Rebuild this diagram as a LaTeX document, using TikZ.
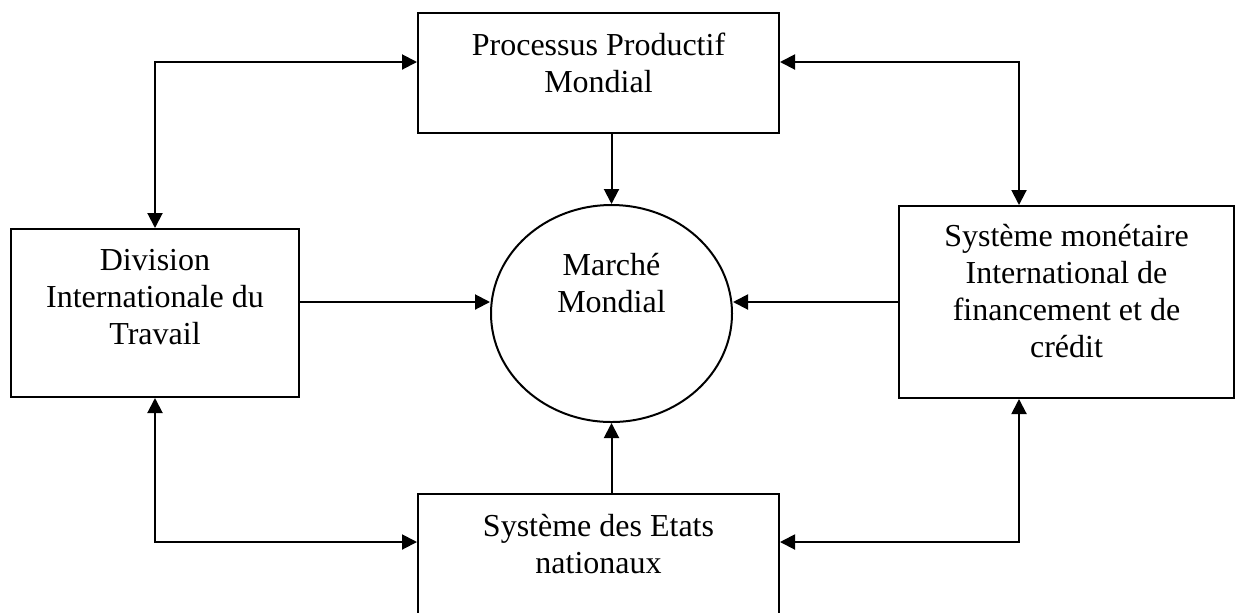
\documentclass[tikz,border=0pt]{standalone}
\usepackage{fontspec}
\setmainfont{Liberation Serif}
\usepackage{tikz}
\usetikzlibrary{calc, arrows.meta, positioning, shapes.geometric}

\begin{document}
\begin{tikzpicture}[x=0.5pt, y=-0.5pt]
	\tikzset{
		box/.style = {draw, line width=1pt, rectangle, inner sep=0pt},
		rond/.style = {draw, line width=1pt, ellipse, inner sep=0pt, minimum width=120.5pt, minimum height=108.5pt},
		txt/.style = {align=center, inner sep=0pt, font={\fontsize{16}{18.5}\selectfont}},
		arrow/.style = {-{Triangle[length=7.5pt, width=7.5pt]}, line width=1pt},
		dblarrow/.style = {{Triangle[length=7.5pt, width=7.5pt]}-{Triangle[length=7.5pt, width=7.5pt]}, line width=1pt},
	}
	\useasboundingbox (0,0) rectangle (1235,612);

	% formes
	\node[box, minimum width=180.5pt, minimum height=60pt] (prod) at (598.5,73) {};
	\node[box, minimum width=144pt, minimum height=84pt] (div) at (155,313) {};
	\node[rond] (marche) at (611.5,313.5) {};
	\node[box, minimum width=167.5pt, minimum height=96pt] (smi) at (1066.5,302) {};
	\node[box, minimum width=180.5pt, minimum height=60pt] (etats) at (598.5,554) {};

	% textes
	\node[txt] (prodtxt) at ([yshift=5.25pt]prod.center) {Processus Productif\\Mondial};
	\node[txt] (divtxt) at ([yshift=7.75pt]div.center) {Division\\Internationale du\\Travail};
	\node[txt] (marchetxt) at ([yshift=15pt]marche.center) {Marché\\Mondial};
	\node[txt] (smitxt) at ([yshift=5.25pt]smi.center) {Système monétaire\\International de\\financement et de\\crédit};
	\node[txt] (etatstxt) at ([yshift=5pt]etats.center) {Système des Etats\\nationaux};

	% vers le marche
	\draw[arrow] (marche.north |- prod.south) -- (marche.north);
	\draw[arrow] (marche.south |- etats.north) -- (marche.south);
	\draw[arrow] (div.east |- smi.west) -- (marche.west |- smi.west);
	\draw[arrow] (smi.west) -- (marche.east |- smi.west);

	% liens doubles
	\draw[dblarrow] (div.north) |- ([yshift=5.5pt]prod.west);
	\draw[dblarrow] ([yshift=5.5pt]prod.east) -| ([xshift=-23.75pt]smi.north);
	\draw[dblarrow] (div.south) |- ([yshift=6pt]etats.west);
	\draw[dblarrow] ([yshift=6pt]etats.east) -| ([xshift=-23.75pt]smi.south);

\end{tikzpicture}
\end{document}
